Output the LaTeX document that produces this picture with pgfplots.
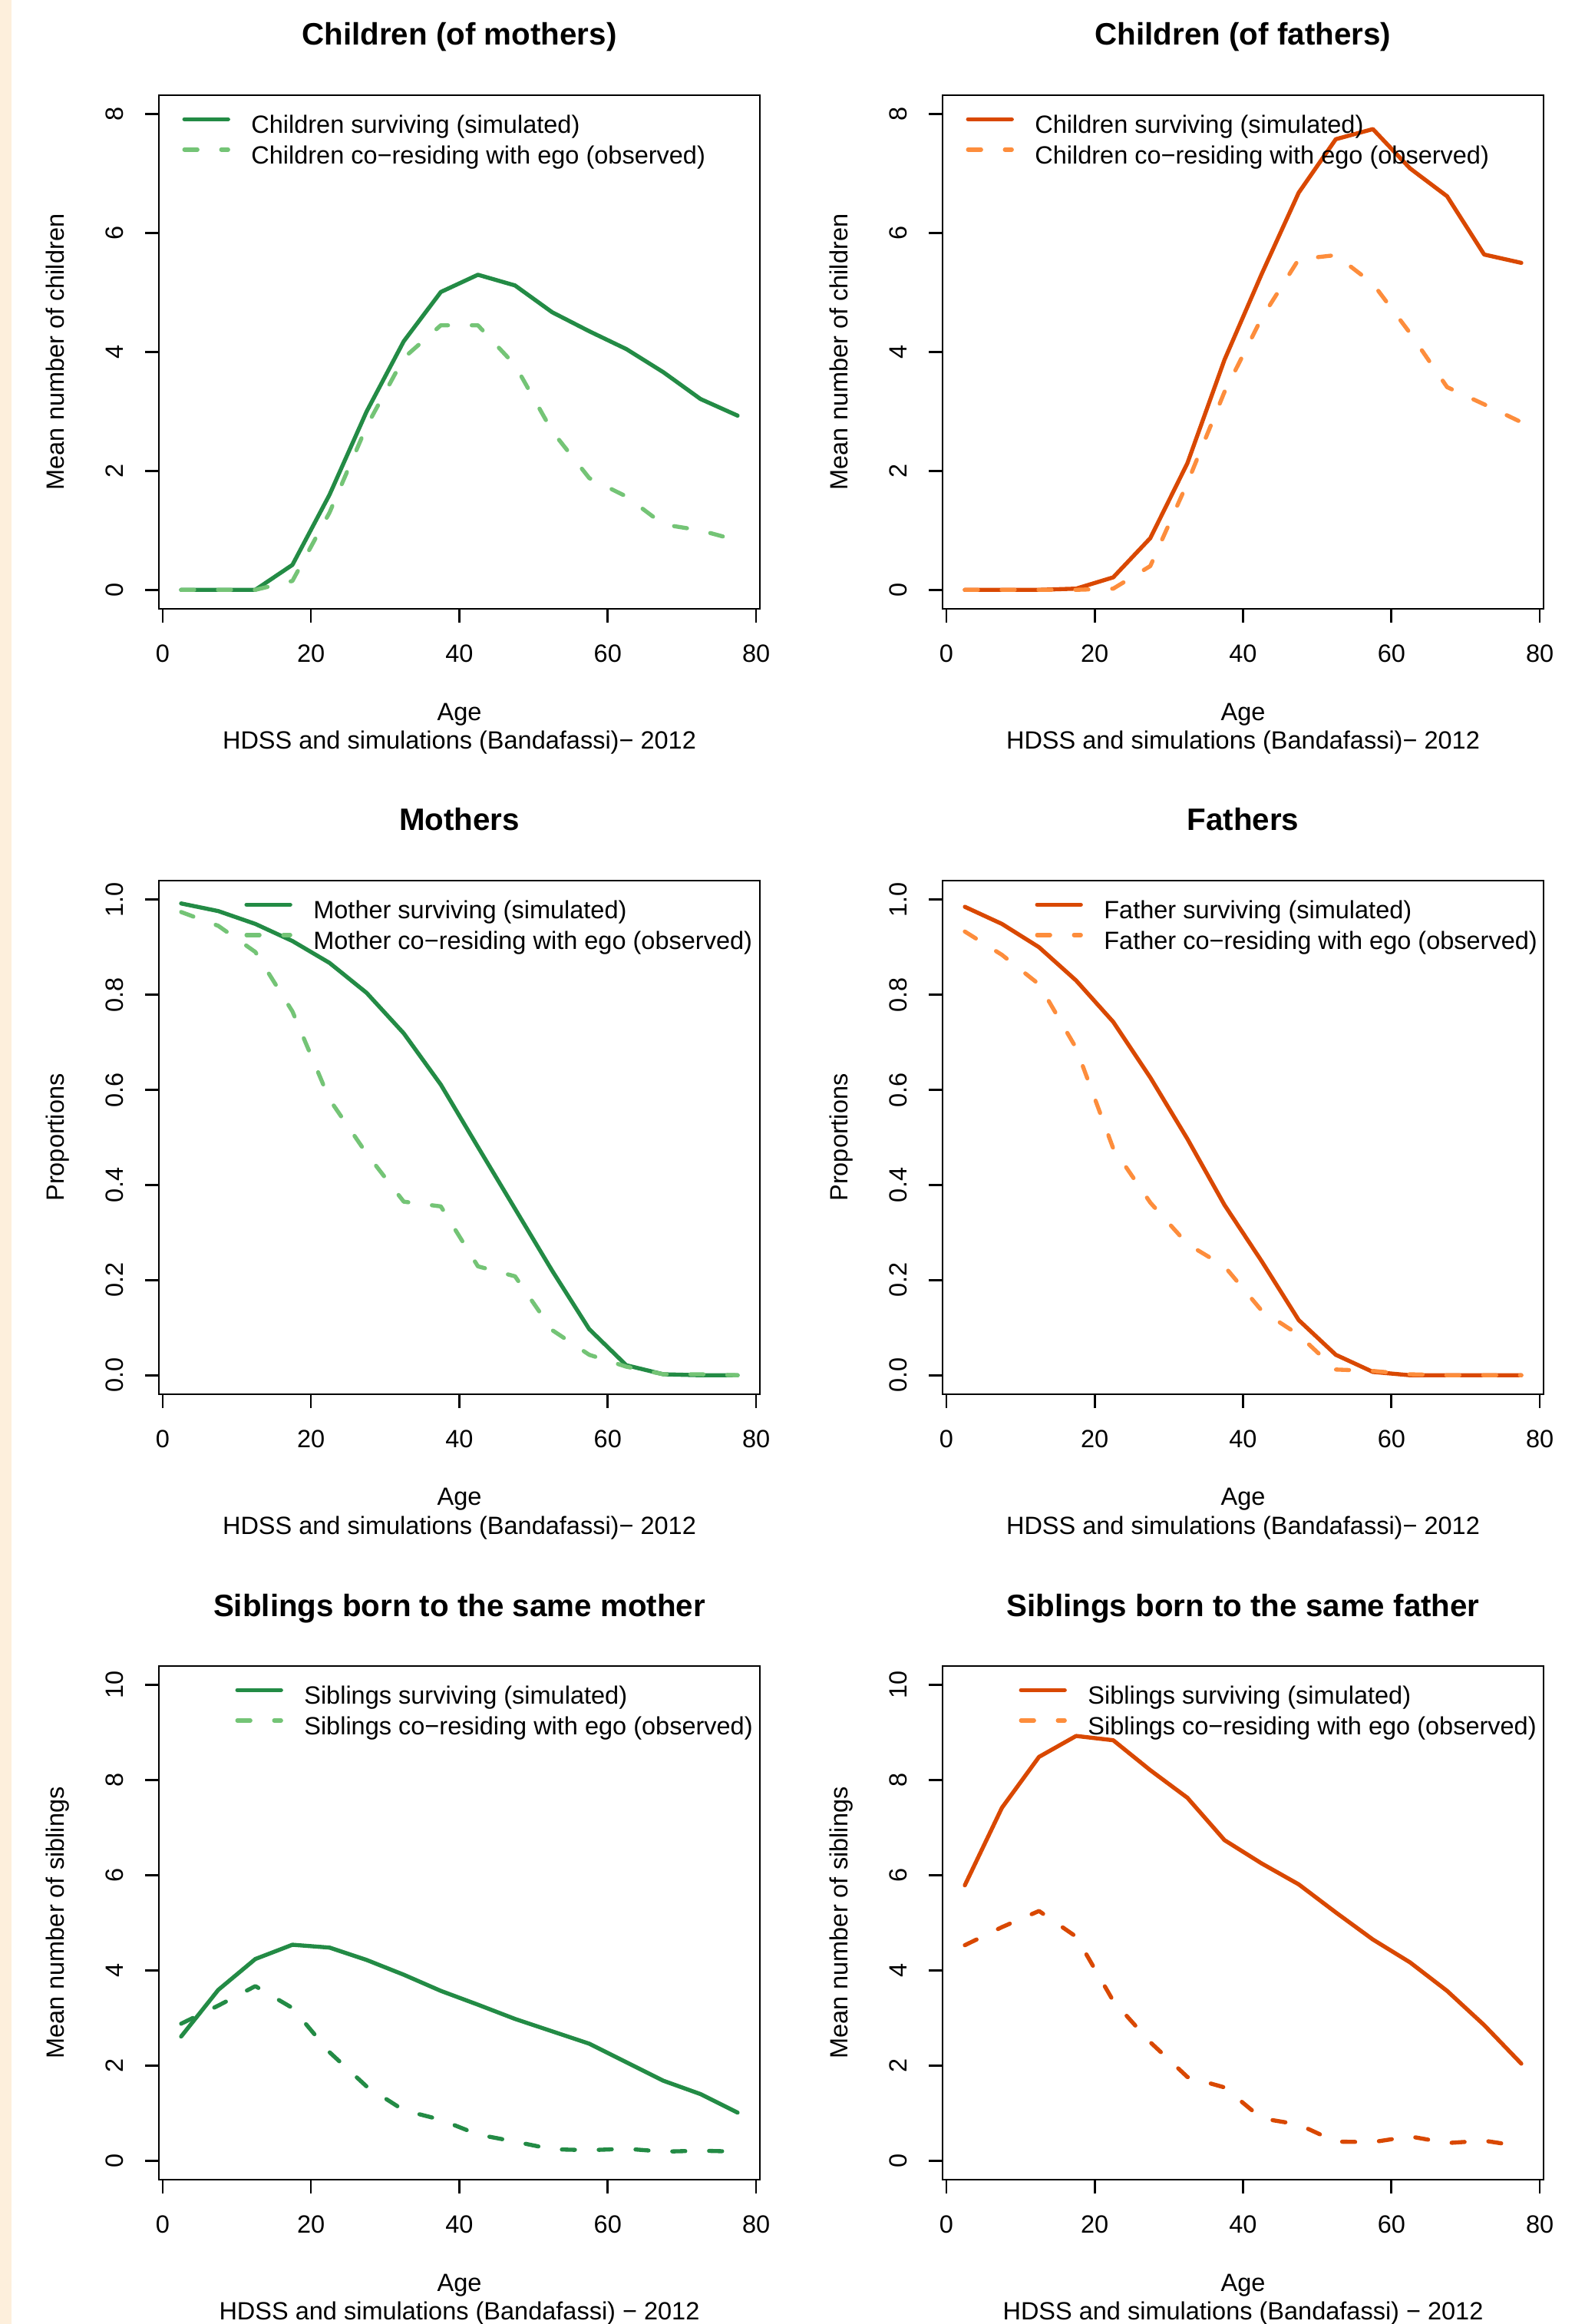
\documentclass[border=0pt]{standalone}
\usepackage{fontspec}
\setmainfont{Liberation Sans}
\usepackage{pgfplots}
\usepackage{pgfplotstable}
\pgfplotsset{compat=1.18}

\newlength\px
\setlength\px{0.3pt}
\newcommand\txt{\fontsize{9.75}{11.7}\selectfont}

\definecolor{dkgreen}{HTML}{238B45}
\definecolor{ltgreen}{HTML}{74C476}
\definecolor{dkorange}{HTML}{D94801}
\definecolor{ltorange}{HTML}{FD8D3C}
\definecolor{strip}{HTML}{FDEFDC}

% age, simulated, observed
\pgfplotstableread{
age  sim   obs
2.5  0     0
7.5  0     0
12.5 0     0
17.5 0.42  0.15
22.5 1.6   1.3
27.5 3.0   2.75
32.5 4.18  3.9
37.5 5.01  4.45
42.5 5.30  4.45
47.5 5.12  3.78
52.5 4.67  2.67
57.5 4.35  1.88
62.5 4.05  1.57
67.5 3.66  1.1
72.5 3.21  1.0
77.5 2.93  0.83
}\childmo
\pgfplotstableread{
age  sim   obs
2.5  0     0
7.5  0     0
12.5 0     0
17.5 0.02  0
22.5 0.21  0.02
27.5 0.87  0.4
32.5 2.13  1.8
37.5 3.87  3.33
42.5 5.31  4.57
47.5 6.68  5.56
52.5 7.58  5.63
57.5 7.75  5.15
62.5 7.09  4.32
67.5 6.62  3.41
72.5 5.64  3.12
77.5 5.50  2.82
}\childfa
\pgfplotstableread{
age  sim    obs
2.5  0.992  0.974
7.5  0.976  0.945
12.5 0.949  0.89
17.5 0.913  0.765
22.5 0.867  0.58
27.5 0.804  0.466
32.5 0.719  0.365
37.5 0.611  0.355
42.5 0.48   0.229
47.5 0.35   0.208
52.5 0.22   0.095
57.5 0.097  0.043
62.5 0.021  0.018
67.5 0.002  0.002
72.5 0.0    0.002
77.5 0.0    0.0
}\mothers
\pgfplotstableread{
age  sim    obs
2.5  0.985  0.933
7.5  0.949  0.884
12.5 0.90   0.822
17.5 0.83   0.688
22.5 0.743  0.477
27.5 0.626  0.363
32.5 0.497  0.276
37.5 0.358  0.229
42.5 0.24   0.136
47.5 0.116  0.085
52.5 0.043  0.012
57.5 0.007  0.009
62.5 0.0    0.002
67.5 0.0    0.0
72.5 0.0    0.0
77.5 0.0    0.0
}\fathers
\pgfplotstableread{
age  sim   obs
2.5  2.61  2.88
7.5  3.59  3.26
12.5 4.24  3.67
17.5 4.54  3.21
22.5 4.48  2.28
27.5 4.22  1.56
32.5 3.91  1.06
37.5 3.57  0.86
42.5 3.28  0.55
47.5 2.98  0.40
52.5 2.72  0.24
57.5 2.46  0.22
62.5 2.07  0.25
67.5 1.68  0.19
72.5 1.40  0.21
77.5 1.01  0.19
}\sibmo
\pgfplotstableread{
age  sim   obs
2.5  5.79  4.53
7.5  7.42  4.91
12.5 8.49  5.25
17.5 8.93  4.71
22.5 8.84  3.36
27.5 8.21  2.49
32.5 7.63  1.76
37.5 6.74  1.54
42.5 6.25  0.89
47.5 5.81  0.76
52.5 5.22  0.40
57.5 4.65  0.39
62.5 4.17  0.51
67.5 3.57  0.37
72.5 2.85  0.42
77.5 2.04  0.30
}\sibfa

\pgfplotsset{
  rpanel/.style={
    scale only axis, width=783\px, height=669\px,
    xmin=-0.5, xmax=80.5,
    xtick={0,20,40,60,80},
    clip=false,
    axis line style={line width=0.8pt},
    tick style={line width=0.8pt, black},
    tick align=outside, major tick length=18\px,
    xtick pos=left, ytick pos=left,
    /pgf/number format/assume math mode=true,
    tick label style={font=\txt},
    xticklabel style={anchor=north, inner sep=0pt, yshift=-28\px},
    yticklabel style={anchor=south, inner sep=0pt, xshift=-28\px, rotate=90},
    every axis x label/.style={at={(axis description cs:0.5,-0.2167)}, anchor=base},
    every axis y label/.style={at={(axis description cs:-0.1571,0.5)}, rotate=90, anchor=base},
    label style={font=\txt},
    every axis title/.style={at={(axis description cs:0.5,1.0972)}, anchor=base,
      font=\fontsize{12.1}{14.5}\selectfont\bfseries},
    xlabel={Age},
    legend cell align=left,
    legend style={draw=none, fill=none, anchor=north west, inner sep=0pt, outer sep=0pt,
      font=\txt, row sep=6.2\px, column sep=27.5\px,
      nodes={inner sep=0pt, text height=0.75em, text depth=0.25em}},
    legend image code/.code={\draw[##1] (0pt,10\px) -- (57\px,10\px);},
  },
  lw/.style={line width=1.6pt, line cap=round, line join=round, no marks},
  simG/.style={lw, draw=dkgreen},
  obsG/.style={lw, draw=ltgreen, dash pattern=on 17\px off 31\px},
  obsGd/.style={lw, draw=dkgreen, dash pattern=on 17\px off 31\px},
  simO/.style={lw, draw=dkorange},
  obsO/.style={lw, draw=ltorange, dash pattern=on 17\px off 31\px},
  obsOd/.style={lw, draw=dkorange, dash pattern=on 17\px off 31\px},
}

\begin{document}
\begin{tikzpicture}
\path[use as bounding box] (0,0) rectangle (2065\px,-3027\px);
\fill[strip] (0,0) rectangle (15\px,-3027\px);

% row 1
\begin{axis}[rpanel, at={(207\px,-124\px)}, anchor=north west,
  ymin=-0.32, ymax=8.32, ytick={0,2,4,6,8},
  title={Children (of mothers)}, ylabel={Mean number of children},
  legend style={at={(axis description cs:0.0390,0.9632)}}]
\addplot[simG] table[x=age,y=sim] {\childmo};
\addlegendentry{Children surviving (simulated)}
\addplot[obsG] table[x=age,y=obs] {\childmo};
\addlegendentry{Children co−residing with ego (observed)}
\end{axis}
\node[anchor=base, font=\txt] at (598.5\px,-975\px) {HDSS and simulations (Bandafassi)− 2012};

\begin{axis}[rpanel, at={(1228\px,-124\px)}, anchor=north west,
  ymin=-0.32, ymax=8.32, ytick={0,2,4,6,8},
  title={Children (of fathers)}, ylabel={Mean number of children},
  legend style={at={(axis description cs:0.0390,0.9632)}}]
\addplot[simO] table[x=age,y=sim] {\childfa};
\addlegendentry{Children surviving (simulated)}
\addplot[obsO] table[x=age,y=obs] {\childfa};
\addlegendentry{Children co−residing with ego (observed)}
\end{axis}
\node[anchor=base, font=\txt] at (1619.5\px,-975\px) {HDSS and simulations (Bandafassi)− 2012};

% row 2
\begin{axis}[rpanel, at={(207\px,-1147\px)}, anchor=north west,
  ymin=-0.04, ymax=1.04, ytick={0,0.2,0.4,0.6,0.8,1.0},
  yticklabel style={/pgf/number format/.cd, fixed, fixed zerofill, precision=1},
  title={Mothers}, ylabel={Proportions},
  legend style={at={(axis description cs:0.1424,0.9632)}}]
\addplot[simG] table[x=age,y=sim] {\mothers};
\addlegendentry{Mother surviving (simulated)}
\addplot[obsG] table[x=age,y=obs] {\mothers};
\addlegendentry{Mother co−residing with ego (observed)}
\end{axis}
\node[anchor=base, font=\txt] at (598.5\px,-1998\px) {HDSS and simulations (Bandafassi)− 2012};

\begin{axis}[rpanel, at={(1228\px,-1147\px)}, anchor=north west,
  ymin=-0.04, ymax=1.04, ytick={0,0.2,0.4,0.6,0.8,1.0},
  yticklabel style={/pgf/number format/.cd, fixed, fixed zerofill, precision=1},
  title={Fathers}, ylabel={Proportions},
  legend style={at={(axis description cs:0.1539,0.9632)}}]
\addplot[simO] table[x=age,y=sim] {\fathers};
\addlegendentry{Father surviving (simulated)}
\addplot[obsO] table[x=age,y=obs] {\fathers};
\addlegendentry{Father co−residing with ego (observed)}
\end{axis}
\node[anchor=base, font=\txt] at (1619.5\px,-1998\px) {HDSS and simulations (Bandafassi)− 2012};

% row 3
\begin{axis}[rpanel, at={(207\px,-2170\px)}, anchor=north west,
  ymin=-0.4, ymax=10.4, ytick={0,2,4,6,8,10},
  title={Siblings born to the same mother}, ylabel={Mean number of siblings},
  legend style={at={(axis description cs:0.1271,0.9632)}}]
\addplot[simG] table[x=age,y=sim] {\sibmo};
\addlegendentry{Siblings surviving (simulated)}
\addplot[obsGd, forget plot] table[x=age,y=obs] {\sibmo};
\addlegendimage{obsG}
\addlegendentry{Siblings co−residing with ego (observed)}
\end{axis}
\node[anchor=base, font=\txt] at (598.5\px,-3021\px) {HDSS and simulations (Bandafassi) − 2012};

\begin{axis}[rpanel, at={(1228\px,-2170\px)}, anchor=north west,
  ymin=-0.4, ymax=10.4, ytick={0,2,4,6,8,10},
  title={Siblings born to the same father}, ylabel={Mean number of siblings},
  legend style={at={(axis description cs:0.1271,0.9632)}}]
\addplot[simO] table[x=age,y=sim] {\sibfa};
\addlegendentry{Siblings surviving (simulated)}
\addplot[obsOd, forget plot] table[x=age,y=obs] {\sibfa};
\addlegendimage{obsO}
\addlegendentry{Siblings co−residing with ego (observed)}
\end{axis}
\node[anchor=base, font=\txt] at (1619.5\px,-3021\px) {HDSS and simulations (Bandafassi) − 2012};
\end{tikzpicture}
\end{document}
